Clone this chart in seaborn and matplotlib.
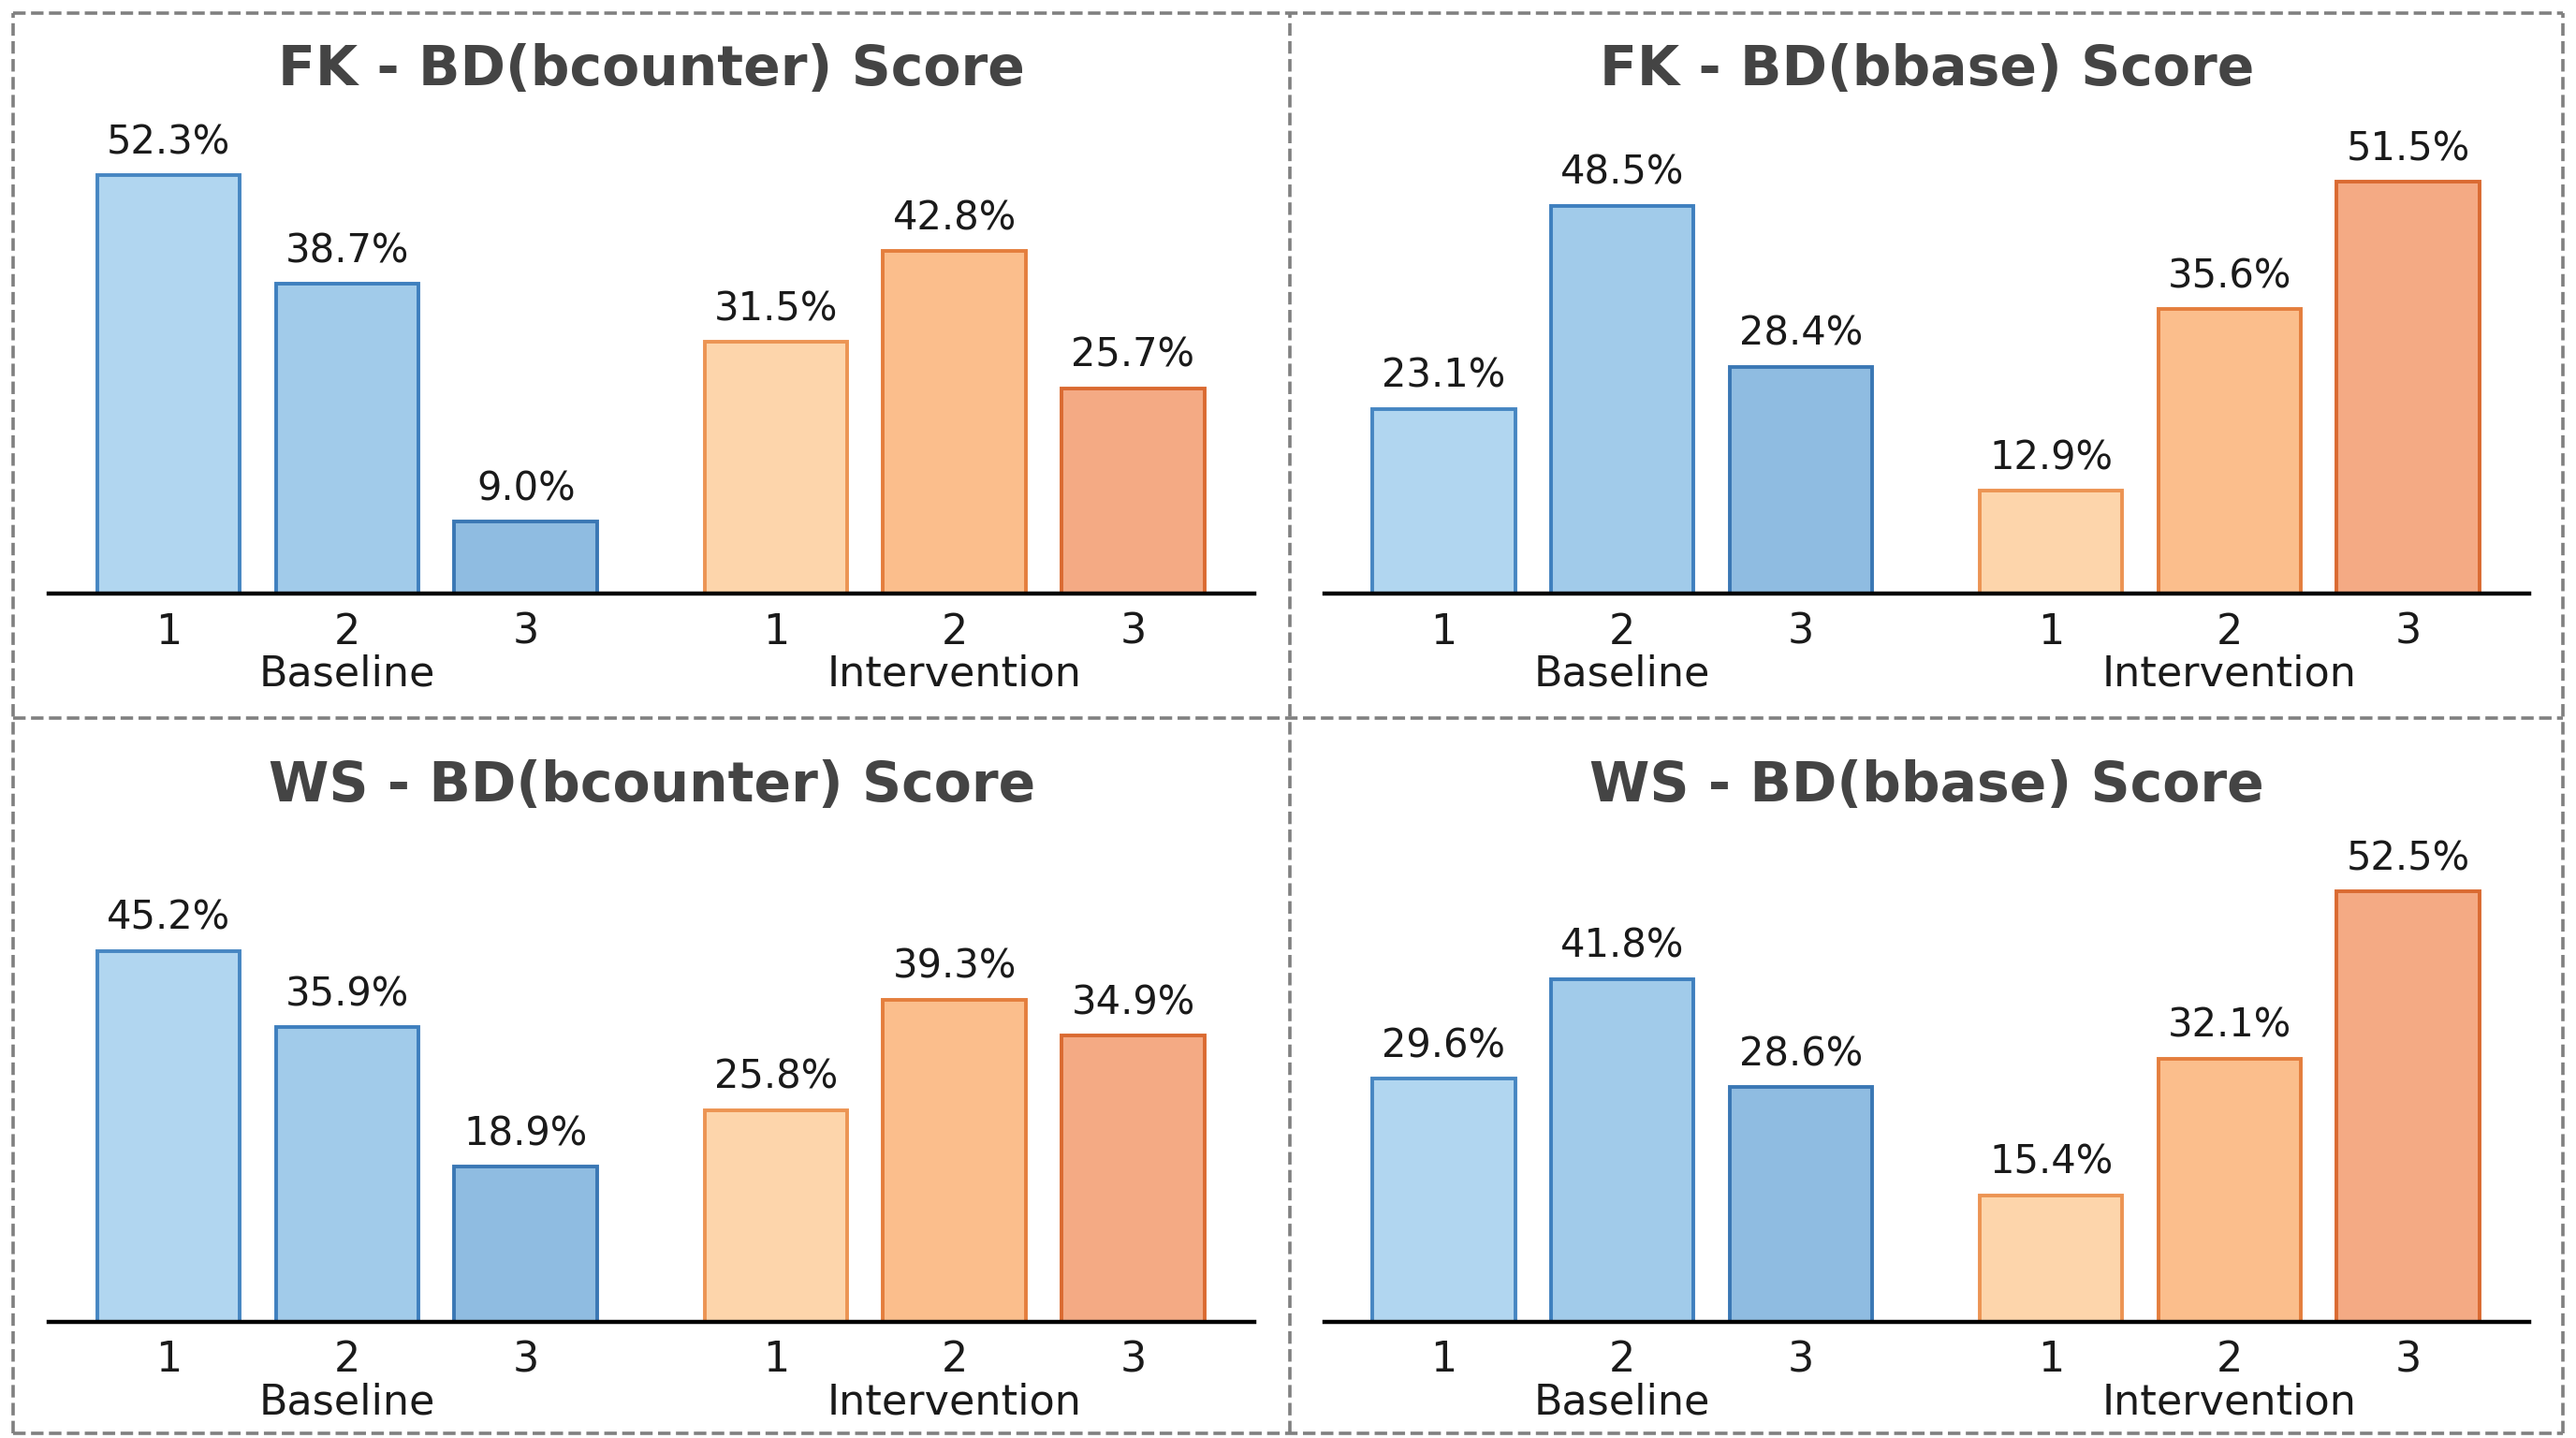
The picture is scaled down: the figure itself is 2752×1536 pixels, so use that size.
import pandas as pd
import seaborn as sns
import matplotlib.pyplot as plt

# %% Data
groups = ['Baseline', 'Intervention']
levels = ['1', '2', '3']
titles = [
    'FK - BD(bcounter) Score',
    'FK - BD(bbase) Score',
    'WS - BD(bcounter) Score',
    'WS - BD(bbase) Score',
]
fk_bcounter = [52.3, 38.7, 9.0, 31.5, 42.8, 25.7]
fk_bbase = [23.1, 48.5, 28.4, 12.9, 35.6, 51.5]
ws_bcounter = [45.2, 35.9, 18.9, 25.8, 39.3, 34.9]
ws_bbase = [29.6, 41.8, 28.6, 15.4, 32.1, 52.5]

fill_colors = ['#b1d6f0', '#a1cbea', '#8fbce1', '#fdd5ab', '#fbbe8c', '#f4aa84']
edge_colors = ['#4686c2', '#3e7fbe', '#3a77b4', '#ec9453', '#e47e3d', '#da6a31']
positions = [0, 1, 2, 3.4, 4.4, 5.4]


# %% Function defs
def make_df(values):
    keys = [f'{g} {l}' for g in groups for l in levels]
    return pd.DataFrame({'pos': positions, 'score': values, 'key': keys})


def draw_panel(ax, values, title):
    df = make_df(values)
    sns.barplot(data=df, x='pos', y='score', hue='key', palette=fill_colors,
                saturation=1, native_scale=True, dodge=False, width=0.8,
                legend=False, ax=ax)
    for patch, edge in zip(ax.patches, edge_colors):
        patch.set_edgecolor(edge)
        patch.set_linewidth(1.4)
    for container in ax.containers:
        ax.bar_label(container, fmt='%.1f%%', padding=5, fontsize=15, color='#1a1a1a')
    ax.set_xlim(-0.67, 6.08)
    ax.set_ylim(0, 60)
    ax.set_xticks(positions)
    ax.set_xticklabels(levels * 2, fontsize=16, color='#1a1a1a')
    ax.set_yticks([])
    ax.set_xlabel('')
    ax.set_ylabel('')
    for side in ['top', 'left', 'right']:
        ax.spines[side].set_visible(False)
    ax.spines['bottom'].set_linewidth(1.6)
    ax.spines['bottom'].set_color('black')
    ax.tick_params(axis='x', direction='in', length=5, width=1.0, pad=7, color='#222222')
    for g, center in zip(groups, [positions[1], positions[4]]):
        ax.annotate(g, xy=(center, 0), xycoords=('data', 'axes fraction'),
                    xytext=(0, -31), textcoords='offset points',
                    ha='center', va='center', fontsize=16, color='#1a1a1a')
    ax.set_title(title, fontsize=21, fontweight='bold', color='#444444', pad=11)
    ax.set_facecolor('white')


# %% Graphing
sns.set_style('white')
plt.rcParams['font.family'] = ['DejaVu Sans']

fig = plt.figure(figsize=(13.76, 7.68), dpi=200)
fig.patch.set_facecolor('white')

axes_boxes = [
    [0.019, 0.587, 0.468, 0.334],
    [0.514, 0.587, 0.468, 0.334],
    [0.019, 0.081, 0.468, 0.342],
    [0.514, 0.081, 0.468, 0.342],
]
all_values = [fk_bcounter, fk_bbase, ws_bcounter, ws_bbase]
for box, values, title in zip(axes_boxes, all_values, titles):
    ax = fig.add_axes(box)
    draw_panel(ax, values, title)

# dashed panel borders
border = dict(transform=fig.transFigure, ls='--', color='#808080', lw=1.3)
xl, xm, xr = 0.005, 0.5006, 0.995
yb, ym, yt = 0.0034, 0.5006, 0.991
for y in [yb, ym, yt]:
    fig.add_artist(plt.Line2D([xl, xr], [y, y], **border))
for x in [xl, xm, xr]:
    fig.add_artist(plt.Line2D([x, x], [yb, yt], **border))

fig.savefig('out.png', dpi=200, facecolor='white')
